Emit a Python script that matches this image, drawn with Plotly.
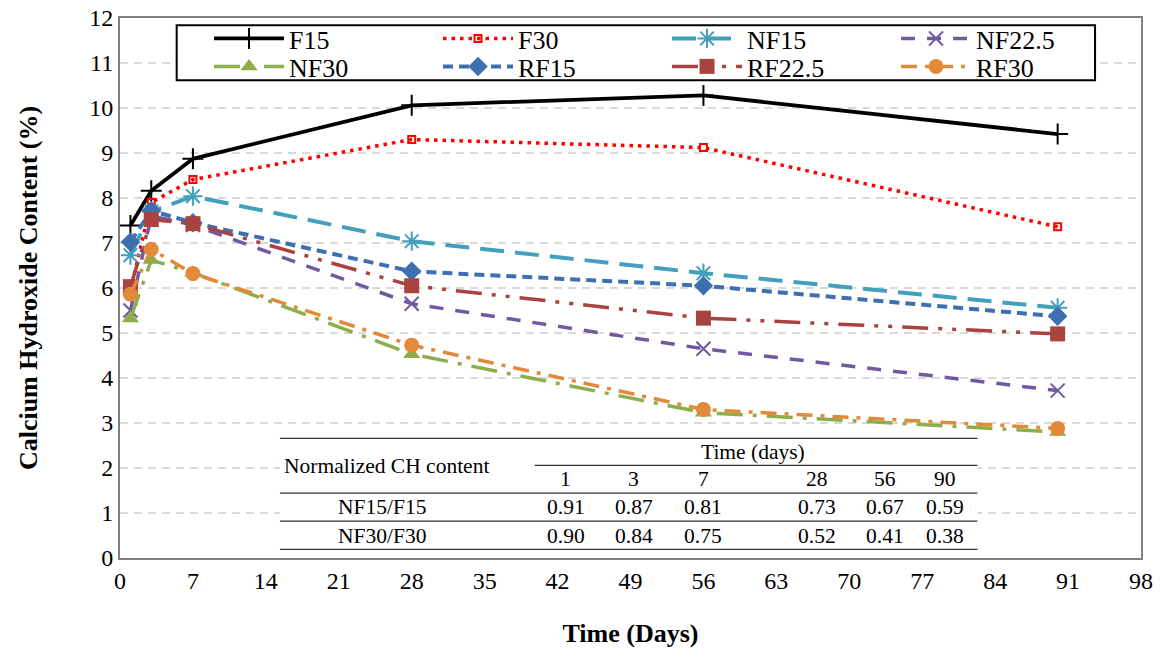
import plotly.graph_objects as go

# Curing age (days)
days = [1, 3, 7, 28, 56, 90]

# Calcium hydroxide content (%) per mix
f15 = [7.39, 8.16, 8.87, 10.06, 10.28, 9.42]
f30 = [5.95, 7.90, 8.41, 9.30, 9.12, 7.36]
nf15 = [6.73, 7.70, 8.04, 7.04, 6.33, 5.56]
nf22_5 = [5.50, 7.60, 7.40, 5.65, 4.65, 3.72]
nf30 = [5.32, 6.62, 6.34, 4.53, 3.23, 2.80]
rf15 = [7.02, 7.72, 7.45, 6.37, 6.05, 5.37]
rf22_5 = [6.03, 7.52, 7.43, 6.05, 5.33, 4.98]
rf30 = [5.86, 6.86, 6.32, 4.73, 3.30, 2.88]

# Normalized CH content table
table_days = ["1", "3", "7", "28", "56", "90"]
table_rows = ["NF15/F15", "NF30/F30"]
table_vals = [
    ["0.91", "0.87", "0.81", "0.73", "0.67", "0.59"],
    ["0.90", "0.84", "0.75", "0.52", "0.41", "0.38"],
]

x_ticks = list(range(0, 99, 7))
y_ticks = list(range(0, 13))

FONT = "Liberation Serif"

# (name, values, line style, marker style, legend row)
series = [
    ("F15", f15, dict(color="black", width=3.8, dash="solid"),
     dict(symbol="cross-thin-open", size=15, line=dict(color="black", width=2)), "legend"),
    ("F30", f30, dict(color="#FF0000", width=3.5, dash="3.5px,5px"),
     dict(symbol="square-open", size=7, color="#FF0000", line=dict(color="#FF0000", width=2)), "legend"),
    ("NF15", nf15, dict(color="#42A0BC", width=4, dash="24px,11px"),
     dict(symbol="asterisk-open", size=16, line=dict(color="#42A0BC", width=2)), "legend"),
    ("NF22.5", nf22_5, dict(color="#7059A0", width=3.5, dash="14px,12px"),
     dict(symbol="x-thin-open", size=14, line=dict(color="#7059A0", width=2)), "legend"),
    ("NF30", nf30, dict(color="#8DAE4B", width=3.5, dash="26px,10px,4px,10px"),
     dict(symbol="triangle-up", size=15, color="#8DAE4B", line=dict(width=0)), "legend2"),
    ("RF15", rf15, dict(color="#3E6FB0", width=4, dash="10px,6px"),
     dict(symbol="diamond", size=15, color="#3E6FB0", line=dict(width=0)), "legend2"),
    ("RF22.5", rf22_5, dict(color="#A8433F", width=3.5, dash="26px,10px,4px,10px,4px,10px"),
     dict(symbol="square", size=15, color="#A8433F", line=dict(width=0)), "legend2"),
    ("RF30", rf30, dict(color="#E38A3A", width=3.5, dash="16px,8px,4px,8px"),
     dict(symbol="circle", size=15, color="#E38A3A", line=dict(width=0)), "legend2"),
]

fig = go.Figure()
for name, vals, line, marker, lg in series:
    fig.add_trace(go.Scatter(x=days, y=vals, name=name, mode="lines+markers",
                             line=line, marker=marker, legend=lg))

# ---- legend frame ----
shapes = [dict(type="rect", xref="paper", yref="paper", x0=0.0555, x1=0.955,
               y0=0.8846, y1=0.9865, fillcolor="white",
               line=dict(color="black", width=2), layer="above")]

# ---- inset table (drawn in data coordinates) ----
x_left, x_right, x_mid = 15.35, 82.3, 39.8
y_lines = [2.66, 2.06, 1.44, 0.82, 0.19]
col_x = [42.8, 49.3, 56.0, 66.9, 73.4, 79.2]
row_y = [1.13, 0.50]

shapes.append(dict(type="rect", xref="x", yref="y", x0=x_left, x1=x_right,
                   y0=y_lines[4], y1=y_lines[0], fillcolor="white",
                   line=dict(width=0), layer="above"))
for i, yv in enumerate(y_lines):
    x0 = x_mid if i == 1 else x_left
    shapes.append(dict(type="line", xref="x", yref="y", x0=x0, x1=x_right,
                       y0=yv, y1=yv, line=dict(color="#333333", width=1.3),
                       layer="above"))

ann = []
tfont = dict(family=FONT, size=21.5, color="black")
ann.append(dict(x=25.6, y=2.05, xref="x", yref="y", text="Normalized CH content",
                showarrow=False, font=tfont))
ann.append(dict(x=60.8, y=2.36, xref="x", yref="y", text="Time (days)",
                showarrow=False, font=tfont))
for cx, lab in zip(col_x, table_days):
    ann.append(dict(x=cx, y=1.76, xref="x", yref="y", text=lab,
                    showarrow=False, font=tfont))
for ry, rname, rvals in zip(row_y, table_rows, table_vals):
    ann.append(dict(x=25.1, y=ry, xref="x", yref="y", text=rname,
                    showarrow=False, font=tfont))
    for cx, v in zip(col_x, rvals):
        ann.append(dict(x=cx, y=ry, xref="x", yref="y", text=v,
                        showarrow=False, font=tfont))

legend_common = dict(orientation="h", xanchor="left", yanchor="middle",
                     bgcolor="rgba(0,0,0,0)", borderwidth=0,
                     font=dict(family=FONT, size=26, color="black"),
                     itemwidth=70, entrywidth=144, traceorder="normal")

fig.update_layout(
    width=1164, height=649,
    margin=dict(l=120, r=23, t=18, b=91, autoexpand=False),
    paper_bgcolor="white", plot_bgcolor="white",
    font=dict(family=FONT, color="black"),
    showlegend=True,
    legend=dict(x=0.0872, y=0.9620, **legend_common),
    legend2=dict(x=0.0872, y=0.9102, **legend_common),
    shapes=shapes,
    annotations=ann,
)

fig.update_xaxes(range=[0, 98], tickvals=x_ticks, ticks="", showgrid=False,
                 showline=True, linecolor="#7F7F7F", linewidth=2, mirror=True,
                 automargin=False,
                 tickfont=dict(family=FONT, size=24, color="black"),
                 title=dict(text="<b>Time (Days)</b>", standoff=31,
                            font=dict(family=FONT, size=26, color="black")),
                 zeroline=False)
fig.update_yaxes(range=[0, 12], tickvals=y_ticks, ticks="", showgrid=True,
                 gridcolor="#D9D9D9", griddash="8px,6px", gridwidth=1.5,
                 showline=True, linecolor="#7F7F7F", linewidth=2, mirror=True,
                 automargin=False,
                 tickfont=dict(family=FONT, size=24, color="black"),
                 title=dict(text="<b>Calcium Hydroxide Content (%)</b>", standoff=44,
                            font=dict(family=FONT, size=26, color="black")),
                 zeroline=False)

fig.write_html("out.html")
